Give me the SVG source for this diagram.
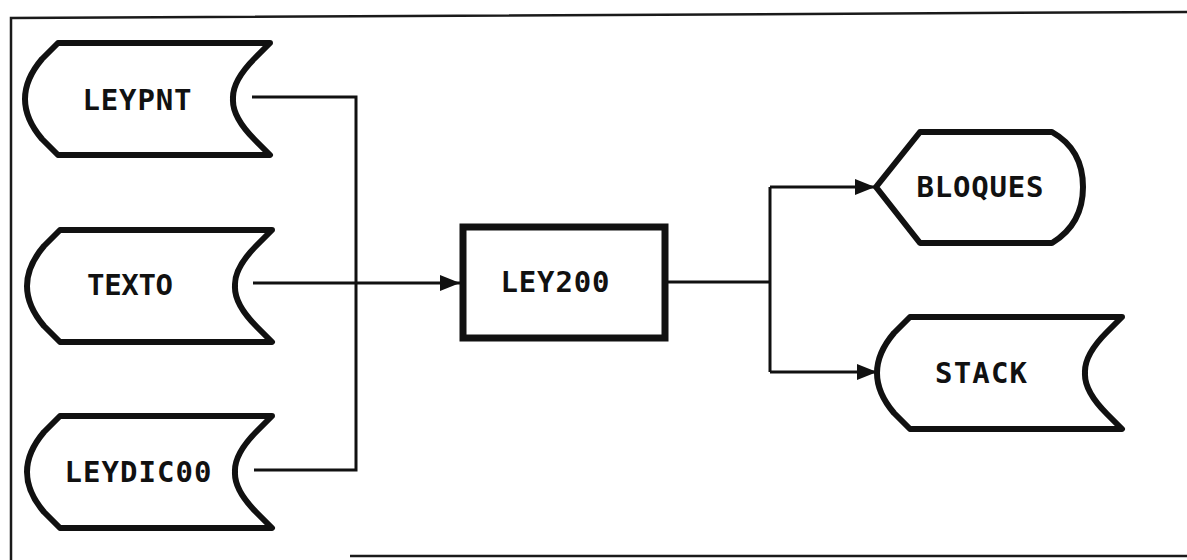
<svg xmlns="http://www.w3.org/2000/svg" width="1187" height="560" viewBox="0 0 1187 560">
  <defs>
    <style>
      .frame { fill: none; stroke: #1a1a1a; stroke-width: 2.5; }
      .shape { fill: #ffffff; stroke: #111; stroke-width: 6; stroke-linejoin: round; }
      .box { fill: #ffffff; stroke: #111; stroke-width: 7; }
      .conn { fill: none; stroke: #111; stroke-width: 3; }
      .lbl { font-family: "DejaVu Sans Mono", "Liberation Mono", monospace; font-weight: bold; font-size: 29px; fill: #111; text-anchor: middle; }
    </style>
    <path id="stored" d="M33,0 L245,0 L230,15 Q207,38 208,56 Q207,74 230,97 L245,112 L33,112 L17,96 Q0,76 0,56 Q0,36 17,16 Z"/>
    <marker id="arr" markerUnits="userSpaceOnUse" markerWidth="22" markerHeight="18" refX="20" refY="9" orient="auto">
      <path d="M0,1 L20,9 L0,17 Z" fill="#111"/>
    </marker>
  </defs>
  <rect width="1187" height="560" fill="#ffffff"/>
  <g id="frame">
    <path class="frame" d="M11,560 V18 L1187,12"/>
    <path class="frame" d="M350,556 H1187"/>
  </g>
  <g id="connectors">
    <path class="conn" d="M252,97 H356 V470 H254"/>
    <path class="conn" d="M253,283 H460" marker-end="url(#arr)"/>
    <path class="conn" d="M665,282 H770"/>
    <path class="conn" d="M770,187 V372"/>
    <path class="conn" d="M770,187 H875" marker-end="url(#arr)"/>
    <path class="conn" d="M770,372 H877" marker-end="url(#arr)"/>
  </g>
  <g id="leypnt">
    <use href="#stored" class="shape" transform="translate(25,43)"/>
    <text class="lbl" x="137" y="110" textLength="109" lengthAdjust="spacing">LEYPNT</text>
  </g>
  <g id="texto">
    <use href="#stored" class="shape" transform="translate(27,230)"/>
    <text class="lbl" x="130" y="295" textLength="86" lengthAdjust="spacing">TEXTO</text>
  </g>
  <g id="leydic00">
    <use href="#stored" class="shape" transform="translate(27,416)"/>
    <text class="lbl" x="138" y="482" textLength="147" lengthAdjust="spacing">LEYDIC00</text>
  </g>
  <g id="ley200">
    <rect class="box" x="463" y="227" width="202" height="111"/>
    <text class="lbl" x="555" y="292" textLength="109" lengthAdjust="spacing">LEY200</text>
  </g>
  <g id="bloques">
    <path class="shape" d="M920,132 L1052,132 C1075,145 1083,165 1083,187 C1083,209 1075,229 1052,243 L920,243 L876,187 Z"/>
    <text class="lbl" x="980" y="197" textLength="127" lengthAdjust="spacing">BLOQUES</text>
  </g>
  <g id="stack">
    <use href="#stored" class="shape" transform="translate(877,317)"/>
    <text class="lbl" x="981" y="383" textLength="92" lengthAdjust="spacing">STACK</text>
  </g>
</svg>
